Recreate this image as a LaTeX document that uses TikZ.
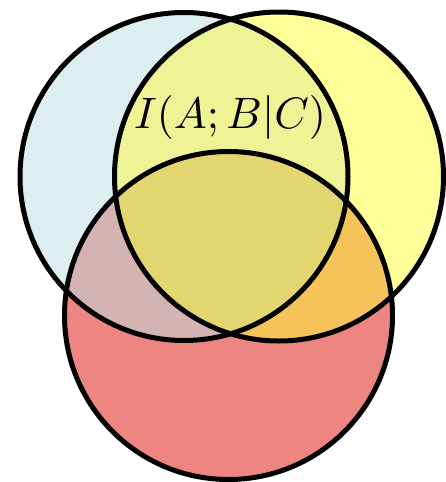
\documentclass[tikz,border=0pt]{standalone}
\definecolor{cblue}{HTML}{DCEEF0}
\definecolor{cyel}{HTML}{FFFF99}
\definecolor{cred}{HTML}{ED8580}
\definecolor{cby}{HTML}{EEF496}
\definecolor{cbr}{HTML}{D4B3B3}
\definecolor{cyr}{HTML}{F5C35A}
\definecolor{cbyr}{HTML}{E3D56F}
\begin{document}
\begin{tikzpicture}[x=1pt,y=-1pt,outline/.style={draw=black,line width=5pt}]
\useasboundingbox (0,0) rectangle (446,482);
\coordinate (cA) at (184,176.5);
\coordinate (cB) at (279,176.5);
\coordinate (cC) at (228.5,315.5);
\def\rA{164}\def\rB{164.5}\def\rC{164}
% single regions
\fill[cblue] (cA) circle[radius=\rA];
\fill[cyel] (cB) circle[radius=\rB];
\fill[cred] (cC) circle[radius=\rC];
% pair overlaps
\begin{scope}
\clip (cA) circle[radius=\rA];
\fill[cby] (cB) circle[radius=\rB];
\fill[cbr] (cC) circle[radius=\rC];
\end{scope}
\begin{scope}
\clip (cB) circle[radius=\rB];
\fill[cyr] (cC) circle[radius=\rC];
\end{scope}
\begin{scope}
\clip (cA) circle[radius=\rA];
\clip (cB) circle[radius=\rB];
\fill[cbyr] (cC) circle[radius=\rC];
\end{scope}
% outlines
\draw[outline] (cA) circle[radius=\rA];
\draw[outline] (cB) circle[radius=\rB];
\draw[outline] (cC) circle[radius=\rC];
\node[scale=4.4] (lbl) at (230,117) {$I(A;B|C)$};
\end{tikzpicture}
\end{document}
